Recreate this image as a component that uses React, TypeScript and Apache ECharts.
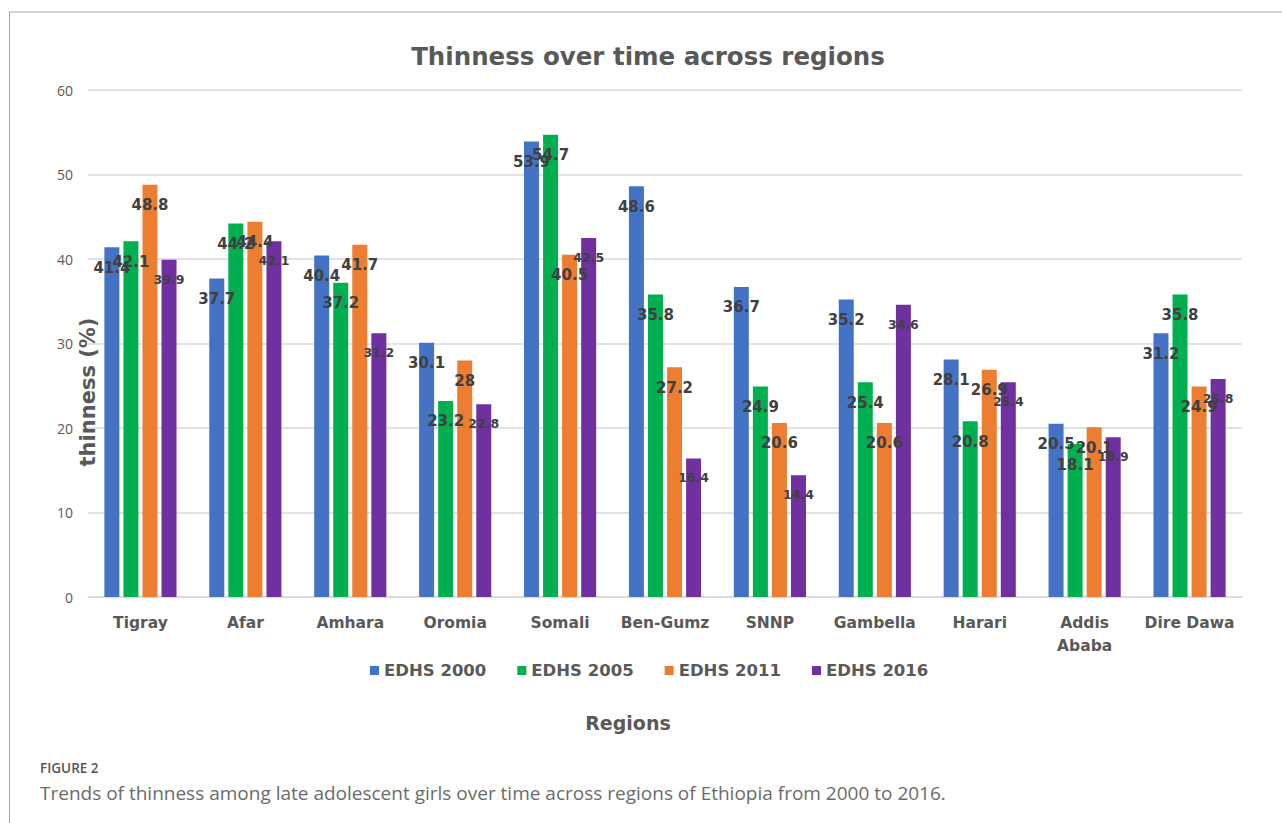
import React, { useEffect, useRef } from "react";
import * as echarts from "echarts";

const categories = ["Tigray", "Afar", "Amhara", "Oromia", "Somali", "Ben-Gumz", "SNNP", "Gambella", "Harari", "Addis\nAbaba", "Dire Dawa"];
const seriesNames = ["EDHS 2000", "EDHS 2005", "EDHS 2011", "EDHS 2016"];
const edhs2000 = [41.4, 37.7, 40.4, 30.1, 53.9, 48.6, 36.7, 35.2, 28.1, 20.5, 31.2];
const edhs2005 = [42.1, 44.2, 37.2, 23.2, 54.7, 35.8, 24.9, 25.4, 20.8, 18.1, 35.8];
const edhs2011 = [48.8, 44.4, 41.7, 28, 40.5, 27.2, 20.6, 20.6, 26.9, 20.1, 24.9];
const edhs2016 = [39.9, 42.1, 31.2, 22.8, 42.5, 16.4, 14.4, 34.6, 25.4, 18.9, 25.8];
const colors = ["#4472C4", "#00B050", "#ED7D31", "#7030A0"];

const HEAVY = "DejaVu Sans";

export default function App() {
  const ref = useRef<HTMLDivElement>(null);
  useEffect(() => {
    const chart = echarts.init(ref.current!, null, { renderer: "svg" });
    const all = [edhs2000, edhs2005, edhs2011, edhs2016];
    chart.setOption({
      animation: false,
      backgroundColor: "#ffffff",
      grid: { left: 88, right: 40, top: 90, bottom: 226, containLabel: false },
      legend: {
        left: 365,
        top: 657,
        itemWidth: 9,
        itemHeight: 9,
        itemGap: 31,
        icon: "rect",
        textStyle: { fontFamily: HEAVY, fontWeight: "bold", fontSize: 16.5, color: "#595959" },
        data: seriesNames,
      },
      xAxis: {
        type: "category",
        data: categories,
        axisLine: { show: true, lineStyle: { color: "#d9d9d9", width: 1.5 } },
        axisTick: { show: false },
        axisLabel: {
          interval: 0,
          margin: 14,
          fontFamily: HEAVY,
          fontWeight: "bold",
          fontSize: 15.5,
          color: "#595959",
          lineHeight: 23,
        },
      },
      yAxis: {
        type: "value",
        min: 0,
        max: 60,
        interval: 10,
        axisLine: { show: false },
        axisTick: { show: false },
        splitLine: { lineStyle: { color: "#d9d9d9", width: 1.5 } },
        axisLabel: { fontFamily: "Open Sans", fontSize: 14, color: "#595959", margin: 15 },
      },
      series: all.map((d, i) => ({
        name: seriesNames[i],
        type: "bar",
        data: d,
        barWidth: 15,
        barGap: "27%",
        itemStyle: { color: colors[i] },
        label: {
          show: true,
          position: "insideTop",
          distance: 13,
          fontFamily: HEAVY,
          fontWeight: "bold",
          fontSize: i === 3 ? 12.5 : 15,
          color: "#404040",
        },
      })),
      graphic: [
        { type: "line", shape: { x1: 9, y1: 12, x2: 1282, y2: 12 }, style: { stroke: "#a6a6a6", lineWidth: 1 } },
        { type: "line", shape: { x1: 9.5, y1: 12, x2: 9.5, y2: 823 }, style: { stroke: "#a6a6a6", lineWidth: 1 } },
        {
          type: "text",
          x: 648,
          y: 56,
          style: {
            text: "Thinness over time across regions",
            fontFamily: HEAVY,
            fontWeight: "bold",
            fontSize: 24.5,
            fill: "#595959",
            align: "center",
            verticalAlign: "middle",
          },
        },
        {
          type: "text",
          x: 88,
          y: 392,
          rotation: Math.PI / 2,
          style: {
            text: "thinness (%)",
            fontFamily: HEAVY,
            fontWeight: "bold",
            fontSize: 21,
            fill: "#595959",
            align: "center",
            verticalAlign: "middle",
          },
        },
        {
          type: "text",
          x: 628,
          y: 723,
          style: {
            text: "Regions",
            fontFamily: HEAVY,
            fontWeight: "bold",
            fontSize: 19,
            fill: "#595959",
            align: "center",
            verticalAlign: "middle",
          },
        },
        {
          type: "text",
          x: 40,
          y: 768,
          style: {
            text: "FIGURE 2",
            fontFamily: "Open Sans",
            fontWeight: 600,
            fontSize: 13.5,
            fill: "#555555",
            align: "left",
            verticalAlign: "middle",
          },
        },
        {
          type: "text",
          x: 40,
          y: 793,
          style: {
            text: "Trends of thinness among late adolescent girls over time across regions of Ethiopia from 2000 to 2016.",
            fontFamily: "Open Sans",
            fontSize: 19,
            fill: "#6b6b6b",
            align: "left",
            verticalAlign: "middle",
          },
        },
      ],
    });
    return () => chart.dispose();
  }, []);
  return <div ref={ref} style={{ position: "fixed", left: 0, top: 0, width: 1282, height: 823 }} />;
}
